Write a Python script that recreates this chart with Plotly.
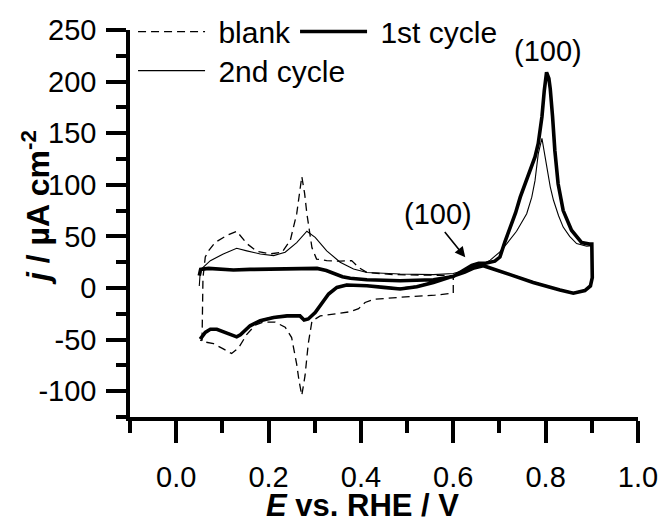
import plotly.graph_objects as go

# ---- data ----
blank_E = [0.056, 0.058, 0.063, 0.070, 0.084, 0.110, 0.131, 0.153, 0.175, 0.203, 0.229, 0.247, 0.261, 0.267,
           0.272, 0.278, 0.283, 0.294, 0.304, 0.326, 0.355, 0.380, 0.395, 0.413, 0.470, 0.540, 0.600,
           0.600, 0.560, 0.485, 0.427, 0.409, 0.395, 0.377, 0.340, 0.312, 0.294, 0.286, 0.279, 0.272,
           0.266, 0.261, 0.250, 0.236, 0.214, 0.189, 0.171, 0.153, 0.135, 0.120, 0.102, 0.081, 0.059, 0.052]
blank_j = [-51, 10, 30, 36, 44, 51, 55, 43, 35.5, 33, 34.6, 46, 72, 92,
           108, 92, 72, 39, 28, 26.5, 26, 26.5, 20, 15, 13, 12.5, 12,
           -5, -7, -9, -11, -14, -20, -23, -25, -27, -32, -54, -85, -104,
           -90, -74, -48, -38, -33, -33, -36, -45, -58, -63.5, -59, -54, -52, -50.5]

first_E = [0.050, 0.053, 0.070, 0.100, 0.124, 0.160, 0.196, 0.230, 0.268, 0.305, 0.325, 0.341, 0.360, 0.377,
           0.413, 0.450, 0.485, 0.520, 0.557, 0.600, 0.620, 0.640, 0.655, 0.670, 0.690, 0.701, 0.712, 0.723,
           0.735, 0.745, 0.756, 0.766, 0.777, 0.784, 0.792, 0.797, 0.802, 0.807, 0.810, 0.815, 0.820, 0.827,
           0.838, 0.856, 0.878, 0.895, 0.900,
           0.901, 0.897, 0.885, 0.860, 0.831, 0.800, 0.773, 0.723, 0.687, 0.665, 0.645, 0.625, 0.600, 0.557,
           0.521, 0.485, 0.449, 0.413, 0.369, 0.348, 0.330, 0.315, 0.301, 0.286, 0.277, 0.268, 0.240, 0.211,
           0.182, 0.160, 0.139, 0.131, 0.113, 0.088, 0.074, 0.063, 0.052]
first_j = [12, 18, 19, 18, 17.5, 18, 18.4, 18.5, 19.4, 19, 17, 14, 11, 9.5,
           8, 7.5, 7, 7.5, 8, 11, 17, 22, 24, 24, 26, 30, 45, 58,
           73, 88, 101, 114, 127, 140, 166, 191, 209, 203, 193, 166, 133, 101,
           75, 56, 44, 42.5, 42.5,
           10, 2, -2.5, -5, -2, 2, 5.4, 13, 18.4, 21.6, 19.5, 15.5, 11.5, 5.4,
           1.3, -1, 0.6, 2.2, 2.9, 0.6, -5.8, -15.5, -23.7, -30, -31, -27, -27, -28.5,
           -31.7, -36.6, -45.3, -47.3, -44, -40, -40, -43, -49.5]

second_E = [0.050, 0.052, 0.056, 0.074, 0.102, 0.131, 0.153, 0.182, 0.211, 0.236, 0.261, 0.283, 0.301,
            0.326, 0.355, 0.384, 0.413, 0.485, 0.557, 0.600, 0.630, 0.658, 0.680, 0.701, 0.716, 0.737,
            0.759, 0.770, 0.777, 0.784, 0.792, 0.797, 0.802, 0.810, 0.817, 0.828, 0.838, 0.852, 0.867,
            0.889, 0.900,
            0.901, 0.897, 0.885, 0.860, 0.831, 0.800, 0.773, 0.723, 0.687, 0.665, 0.645, 0.625, 0.600,
            0.557, 0.521, 0.485, 0.449, 0.413, 0.369, 0.348, 0.330, 0.315, 0.301, 0.286, 0.277, 0.268,
            0.240, 0.211, 0.182, 0.160, 0.139, 0.131, 0.113, 0.088, 0.074, 0.063, 0.052]
second_j = [2, 15, 19, 26.5, 33, 38.5, 36, 33, 31.4, 34.6, 44, 55, 49,
            36, 25, 18.4, 15, 13.6, 13, 14, 18, 21.6, 27, 35, 43, 55,
            72, 88, 104, 130, 145, 131, 117, 98, 85, 70, 59, 50, 43,
            40.5, 41,
            10, 2, -2, -4.5, -1.5, 2.5, 6, 13.5, 19, 21.6, 19.5, 16, 12,
            6, 2, 0, 1, 2.5, 3.5, 1, -5, -15, -23, -29.5, -30.5, -27,
            -26.5, -28, -31, -36, -45, -47, -43.5, -39.5, -39.5, -42.5, -49]

series_names = ["blank", "1st cycle", "2nd cycle"]

x_tick_vals = [0.0, 0.2, 0.4, 0.6, 0.8, 1.0]
x_tick_text = ["0.0", "0.2", "0.4", "0.6", "0.8", "1.0"]
x_minor_vals = [-0.1, 0.1, 0.3, 0.5, 0.7, 0.9]
y_tick_vals = [-100, -50, 0, 50, 100, 150, 200, 250]
y_tick_text = ["-100", "-50", "0", "50", "100", "150", "200", "250"]
y_minor_vals = [-125, -75, -25, 25, 75, 125, 175, 225]

peak_labels = ["(100)", "(100)"]

FONT = "Liberation Sans, Arial, sans-serif"
NB = "\u00a0"

fig = go.Figure()
fig.add_trace(go.Scatter(x=blank_E, y=blank_j, mode="lines", name=NB + series_names[0],
                         line=dict(color="black", width=1.3, dash="8px,5px"),
                         legend="legend", legendwidth=80))
fig.add_trace(go.Scatter(x=second_E, y=second_j, mode="lines", name=NB + series_names[2],
                         line=dict(color="black", width=1.1), legend="legend2", legendwidth=150))
fig.add_trace(go.Scatter(x=first_E, y=first_j, mode="lines", name=NB + series_names[1],
                         line=dict(color="black", width=3.6), legend="legend", legendwidth=135))

axis_common = dict(showline=True, linecolor="black", linewidth=3.5, showgrid=False, zeroline=False,
                   ticks="outside", tickwidth=3.5, tickcolor="black", mirror=False, automargin=False,
                   tickfont=dict(family=FONT, size=29, color="black"))

fig.update_xaxes(range=[-0.1, 1.0], tickmode="array", tickvals=x_tick_vals, ticktext=x_tick_text,
                 ticklen=22, ticklabelstandoff=9,
                 minor=dict(tickmode="array", tickvals=x_minor_vals, ticklen=12, tickwidth=3.5,
                            ticks="outside", tickcolor="black"),
                 **axis_common)
fig.update_yaxes(range=[-125, 250], tickmode="array", tickvals=y_tick_vals, ticktext=y_tick_text,
                 ticklen=20, ticklabelstandoff=4,
                 minor=dict(tickmode="array", tickvals=y_minor_vals, ticklen=10, tickwidth=3.5,
                            ticks="outside", tickcolor="black"),
                 **axis_common)

legend_common = dict(orientation="h", font=dict(family=FONT, size=30, color="black"),
                     bgcolor="rgba(0,0,0,0)", borderwidth=0, itemwidth=67, xanchor="left",
                     yanchor="middle", entrywidthmode="pixels", tracegroupgap=0)
fig.update_layout(
    legend=dict(x=0.006, y=0.996, **legend_common),
    legend2=dict(x=0.006, y=0.895, **legend_common),
)

# axis titles
fig.add_annotation(text="<b><i>E</i> vs. RHE / V</b>", xref="paper", yref="paper",
                   x=0.457, y=-0.229, xanchor="center", yanchor="middle", showarrow=False,
                   font=dict(family=FONT, size=31, color="black"))
fig.add_annotation(text="<b><i>j</i> / µA cm<sup>-2</sup></b>", xref="paper", yref="paper",
                   x=-0.185, y=0.54, xanchor="center", yanchor="middle", showarrow=False,
                   textangle=-90, font=dict(family=FONT, size=32, color="black"))

# peak labels
fig.add_annotation(text=peak_labels[0], x=0.805, y=230, xref="x", yref="y", showarrow=False,
                   font=dict(family=FONT, size=29, color="black"))
fig.add_annotation(text=peak_labels[1], x=0.566, y=72, xref="x", yref="y", showarrow=False,
                   font=dict(family=FONT, size=29, color="black"))
fig.add_annotation(text="", x=0.626, y=29.7, ax=0.579, ay=55.6, xref="x", yref="y",
                   axref="x", ayref="y", showarrow=True, arrowhead=2, arrowsize=1.3,
                   arrowwidth=1.6, arrowcolor="black")

fig.update_layout(width=663, height=523,
                  margin=dict(l=130, r=25, t=30, b=106, autoexpand=False),
                  paper_bgcolor="white", plot_bgcolor="white", showlegend=True,
                  font=dict(family=FONT, color="black"))

fig.write_html("out.html")
